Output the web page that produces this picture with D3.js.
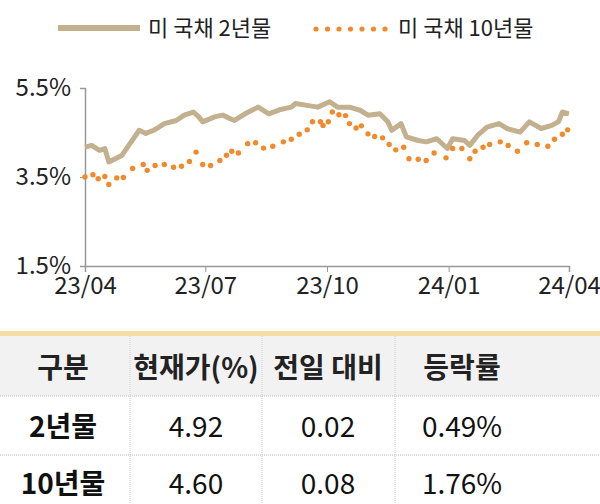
<!DOCTYPE html>
<html><head><meta charset="utf-8">
<script src="https://cdn.jsdelivr.net/npm/d3@7"></script>
<style>body{margin:0;background:#fff;font-family:"Noto Sans CJK KR","Noto Sans",sans-serif}</style>
</head><body><svg id="c" width="600" height="504"></svg>
<script>
const twoDays=[0,5,11,15,18,23,28,34,41,46,52,60,69,75,82,86,89,98,104,113,121,131,139,147,156,159,168,176,185,191,200,208,214,223,229,232,239,243,252,258,266,274,278,287,291,297,304,313,319,329,336,345,353,358,361,366];
const twoVals=[4.17,4.21,4.10,4.14,3.84,3.91,3.99,4.25,4.55,4.48,4.55,4.70,4.77,4.89,4.96,4.85,4.74,4.85,4.89,4.77,4.92,5.07,4.92,5.01,5.07,5.15,5.11,5.07,5.19,5.07,5.07,5.00,4.89,4.92,4.74,4.55,4.70,4.40,4.32,4.29,4.36,4.14,4.36,4.32,4.21,4.44,4.62,4.70,4.59,4.51,4.74,4.59,4.66,4.74,4.96,4.92];
const tenDays=[0,6,10,15,18,24,29,36,44,47,53,60,67,73,79,84,89,95,102,107,111,116,123,129,135,142,150,156,162,168,172,178,180,184,187,192,197,200,205,209,214,219,225,230,235,241,245,252,258,264,273,278,285,291,295,301,306,314,320,327,334,342,350,355,361,365];
const tenVals=[3.50,3.55,3.46,3.51,3.33,3.48,3.49,3.69,3.78,3.65,3.76,3.78,3.72,3.74,3.85,4.06,3.78,3.76,3.87,3.99,4.08,4.04,4.25,4.27,4.15,4.19,4.29,4.35,4.46,4.56,4.74,4.74,4.66,4.74,4.96,4.90,4.88,4.70,4.60,4.65,4.47,4.41,4.38,4.23,4.11,4.17,3.91,3.90,3.87,4.04,3.93,4.14,4.14,3.91,4.08,4.17,4.23,4.29,4.21,4.08,4.27,4.23,4.19,4.35,4.46,4.56];
const xTicks=["2023-04-01","2023-07-01","2023-10-01","2024-01-01","2024-04-01"];
const yTicks=[1.5,3.5,5.5];
const legendLabels=["미 국채 2년물","미 국채 10년물"];
const headers=["구분","현재가(%)","전일 대비","등락률"];
const rowNames=["2년물","10년물"];
const current=["4.92","4.60"];
const change=["0.02","0.08"];
const pct=["0.49%","1.76%"];

const svg=d3.select("#c");
const base=new Date(2023,3,1);
const day=d=>d3.timeDay.offset(base,d);
const x=d3.scaleTime().domain([new Date(2023,3,1),new Date(2024,3,1)]).range([85,569]);
const y=d3.scaleLinear().domain([1.5,5.5]).range([266,88]);
const c2="#c2b08e",c10="#f08a2c";

// legend
svg.append("line").attr("x1",58).attr("x2",140).attr("y1",28).attr("y2",28).attr("stroke",c2).attr("stroke-width",6);
svg.append("text").attr("x",148).attr("y",36).attr("font-size",22).attr("fill","#222").text(legendLabels[0]);
svg.selectAll(".ld").data(d3.range(7)).join("circle").attr("cx",i=>316+i*11.5).attr("cy",29).attr("r",2.6).attr("fill",c10);
svg.append("text").attr("x",398).attr("y",36).attr("font-size",22).attr("fill","#222").text(legendLabels[1]);

// axes
const ya=svg.append("g").attr("transform","translate(85,0)").call(d3.axisLeft(y).tickValues(yTicks).tickFormat(d=>d.toFixed(1)+"%").tickSize(5));
const xa=svg.append("g").attr("transform","translate(0,266)").call(d3.axisBottom(x).tickValues(xTicks.map(s=>new Date(s+"T00:00"))).tickFormat(d3.timeFormat("%y/%m")).tickSize(6));
[ya,xa].forEach(g=>{g.select(".domain").attr("stroke","#999").attr("stroke-width",1.5);g.selectAll("line").attr("stroke","#999");g.selectAll("text").attr("font-size",24).attr("fill","#222").attr("font-family","Noto Sans CJK KR");});
ya.selectAll("text").attr("dx",-6);
xa.selectAll("text").attr("dy","0.8em");

// 2yr line
svg.append("path").datum(twoDays.map((d,i)=>[day(d),twoVals[i]])).attr("fill","none").attr("stroke",c2).attr("stroke-width",5).attr("stroke-linejoin","round")
 .attr("d",d3.line().x(d=>x(d[0])).y(d=>y(d[1])));
// 10yr dots
svg.selectAll(".d10").data(tenDays.map((d,i)=>[day(d),tenVals[i]])).join("circle").attr("cx",d=>x(d[0])).attr("cy",d=>y(d[1])).attr("r",2.7).attr("fill",c10);

// table
const cx=[63,223,328,462];
cx[1]=196;
svg.append("rect").attr("x",0).attr("y",331).attr("width",600).attr("height",5).attr("fill","#f6dca5");
svg.append("rect").attr("x",0).attr("y",336).attr("width",600).attr("height",60).attr("fill","#f2f2f2");
[396,455].forEach(yy=>svg.append("line").attr("x1",0).attr("x2",600).attr("y1",yy).attr("y2",yy).attr("stroke","#bbb").attr("stroke-dasharray","1,1"));
[130,262,395].forEach(xx=>svg.append("line").attr("x1",xx).attr("x2",xx).attr("y1",336).attr("y2",504).attr("stroke","#ccc").attr("stroke-dasharray","1,1"));
headers.forEach((h,i)=>svg.append("text").attr("x",cx[i]).attr("y",378).attr("text-anchor","middle").attr("font-size",28).attr("font-weight","bold").attr("fill","#222").text(h));
const rows=rowNames.map((n,i)=>[n,current[i],change[i],pct[i]]);
rows.forEach((r,ri)=>r.forEach((v,ci)=>svg.append("text").attr("x",cx[ci]).attr("y",437+ri*57).attr("text-anchor","middle").attr("font-size",28).attr("font-weight",ci==0?"bold":"normal").attr("fill","#111").text(v)));
</script></body></html>
